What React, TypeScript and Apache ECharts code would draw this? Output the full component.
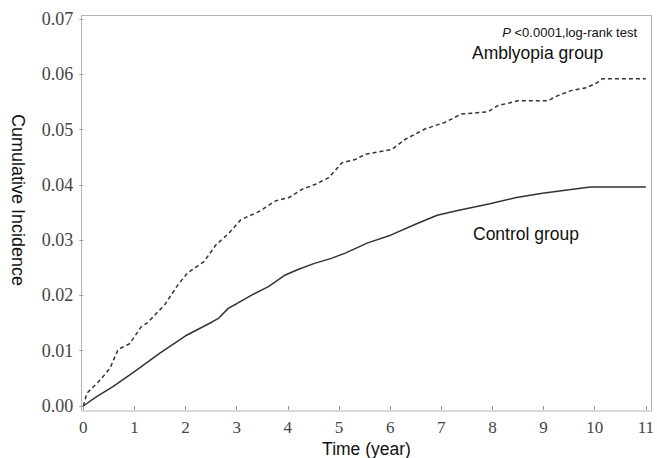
import React, { useEffect, useRef } from "react";
import * as echarts from "echarts";

const ambTime = [0, 0.07, 0.33, 0.52, 0.68, 0.91, 1.13, 1.26, 1.59, 1.85, 2.04, 2.36, 2.59, 2.84, 3.08, 3.44, 3.76, 4.02, 4.28, 4.54, 4.8, 5.06, 5.32, 5.51, 6.03, 6.29, 6.68, 7.07, 7.39, 7.91, 8.1, 8.49, 9.08, 9.27, 9.52, 9.85, 10.05, 10.15, 11.0];
const ambValue = [0, 0.0023, 0.0047, 0.0068, 0.0102, 0.0113, 0.0143, 0.0151, 0.0183, 0.0219, 0.0241, 0.0261, 0.0291, 0.0312, 0.0337, 0.0352, 0.0371, 0.0377, 0.0392, 0.0401, 0.0413, 0.044, 0.0446, 0.0455, 0.0464, 0.0482, 0.0501, 0.0513, 0.0528, 0.0532, 0.0543, 0.0552, 0.0552, 0.0561, 0.057, 0.0576, 0.0585, 0.0592, 0.0592];

const ctrlTime = [0, 0.26, 0.58, 1.0, 1.49, 2.0, 2.52, 2.65, 2.84, 3.0, 3.3, 3.62, 3.95, 4.2, 4.52, 4.85, 5.11, 5.37, 5.56, 6.01, 6.53, 6.92, 7.3, 7.95, 8.47, 8.98, 9.5, 9.92, 11.0];
const ctrlValue = [0, 0.0017, 0.0035, 0.0062, 0.0095, 0.0127, 0.0152, 0.0159, 0.0177, 0.0185, 0.0201, 0.0216, 0.0237, 0.0247, 0.0258, 0.0267, 0.0276, 0.0287, 0.0295, 0.0309, 0.033, 0.0345, 0.0353, 0.0366, 0.0377, 0.0385, 0.0391, 0.0396, 0.0396];

const xTitle = "Time (year)";
const yTitle = "Cumulative Incidence";
const ambLabel = "Amblyopia group";
const ctrlLabel = "Control group";

export default function App() {
  const ref = useRef<HTMLDivElement>(null);
  useEffect(() => {
    if (!ref.current) return;
    const chart = echarts.init(ref.current, null, { renderer: "svg" });
    const ambData = ambTime.map((t, i) => [t, ambValue[i]]);
    const ctrlData = ctrlTime.map((t, i) => [t, ctrlValue[i]]);
    const sans = "'Liberation Sans', Arial, sans-serif";
    const serif = "'Liberation Serif', 'Times New Roman', serif";
    chart.setOption({
      animation: false,
      backgroundColor: "#ffffff",
      grid: { left: 83.3, right: 7, top: 19, bottom: 52, containLabel: false },
      xAxis: {
        type: "value",
        min: 0,
        max: 11,
        interval: 1,
        offset: 5,
        axisLine: { show: false },
        axisTick: { show: true, length: 4, lineStyle: { color: "#9a9a9a" } },
        splitLine: { show: false },
        axisLabel: { fontFamily: serif, fontSize: 17, color: "#444", margin: 8 },
      },
      yAxis: {
        type: "value",
        min: 0,
        max: 0.07,
        interval: 0.01,
        offset: 2,
        axisLine: { show: false },
        axisTick: { show: true, length: 4, lineStyle: { color: "#9a9a9a" } },
        splitLine: { show: false },
        axisLabel: {
          fontFamily: serif,
          fontSize: 18,
          color: "#444",
          margin: 8,
          formatter: (v: number) => v.toFixed(2),
        },
      },
      graphic: [
        {
          type: "rect",
          shape: { x: 81.5, y: 15.5, width: 570, height: 395.5 },
          style: { fill: "none", stroke: "#b4b4b4", lineWidth: 1 },
          silent: true,
          z: 0,
        },
        {
          type: "text",
          x: 18,
          y: 200,
          rotation: -Math.PI / 2,
          style: {
            text: yTitle,
            fontFamily: sans,
            fontSize: 18,
            fill: "#111",
            textAlign: "center",
            textVerticalAlign: "middle",
          },
        },
        {
          type: "text",
          x: 366.5,
          y: 449,
          style: {
            text: xTitle,
            fontFamily: sans,
            fontSize: 17.5,
            fill: "#111",
            textAlign: "center",
            textVerticalAlign: "middle",
          },
        },
        {
          type: "text",
          x: 637,
          y: 32,
          style: {
            text: "{i|P} <0.0001,log-rank test",
            fontFamily: sans,
            fontSize: 13,
            fill: "#111",
            textAlign: "right",
            textVerticalAlign: "middle",
            rich: { i: { fontStyle: "italic", fontFamily: sans, fontSize: 13, fill: "#111" } },
          },
        },
        {
          type: "text",
          x: 472,
          y: 53,
          style: {
            text: ambLabel,
            fontFamily: sans,
            fontSize: 17.5,
            fill: "#111",
            textAlign: "left",
            textVerticalAlign: "middle",
          },
        },
        {
          type: "text",
          x: 473,
          y: 234,
          style: {
            text: ctrlLabel,
            fontFamily: sans,
            fontSize: 17.5,
            fill: "#111",
            textAlign: "left",
            textVerticalAlign: "middle",
          },
        },
      ],
      series: [
        {
          name: ambLabel,
          type: "line",
          data: ambData,
          showSymbol: false,
          symbol: "none",
          lineStyle: { color: "#333", width: 1.5, type: [4, 3] },
          z: 3,
        },
        {
          name: ctrlLabel,
          type: "line",
          data: ctrlData,
          showSymbol: false,
          symbol: "none",
          lineStyle: { color: "#333", width: 1.5, type: "solid" },
          z: 3,
        },
      ],
    });
    return () => chart.dispose();
  }, []);
  return (
    <div
      ref={ref}
      style={{ position: "absolute", left: 0, top: 0, width: 657, height: 458 }}
    />
  );
}
